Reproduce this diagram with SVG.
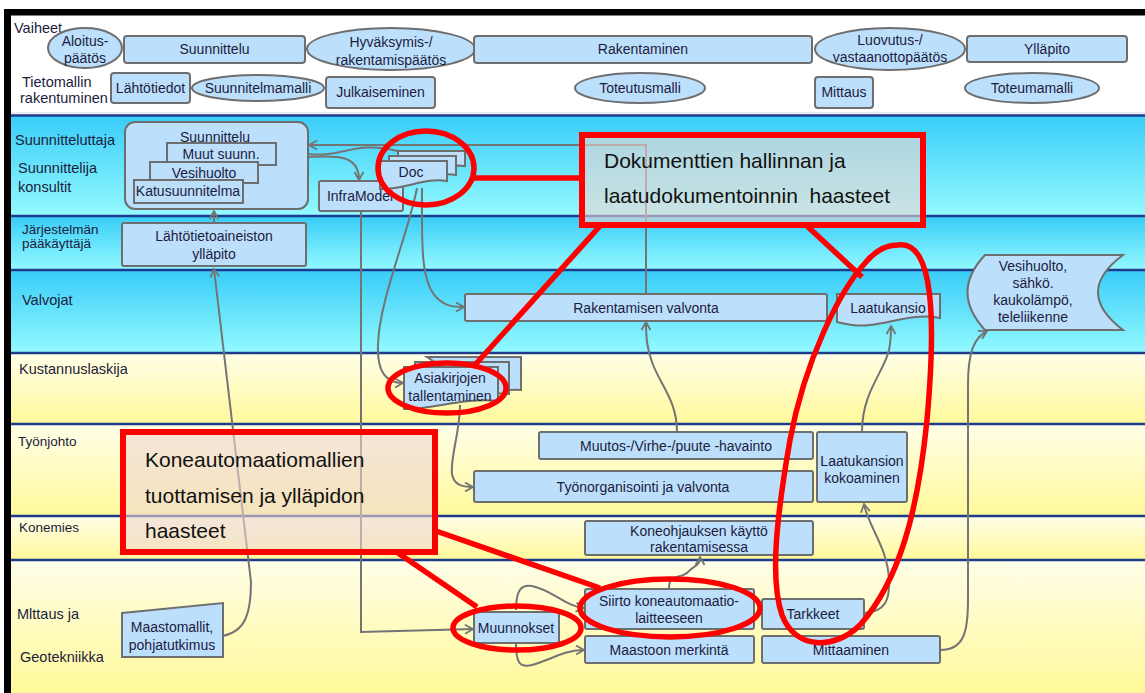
<svg xmlns="http://www.w3.org/2000/svg" width="1145" height="693" viewBox="0 0 1145 693">
  <defs>
    <linearGradient id="gBlue" x1="0" y1="0" x2="0" y2="1">
      <stop offset="0" stop-color="#38ccf8"/>
      <stop offset="1" stop-color="#94faff"/>
    </linearGradient>
    <linearGradient id="gYellow" x1="0" y1="0" x2="0" y2="1">
      <stop offset="0" stop-color="#fffee8"/>
      <stop offset="1" stop-color="#fff99a"/>
    </linearGradient>
    <marker id="arr" viewBox="-1 -1 11 11" refX="8" refY="4.5" markerWidth="11" markerHeight="11" markerUnits="userSpaceOnUse" orient="auto">
      <path d="M0,0 L8,4.5 L0,9" fill="none" stroke="#747474" stroke-width="1.8"/>
    </marker>
    <style>
      .n{fill:#bcdffc;stroke:#6e6e6e;stroke-width:2}
      .t{font-family:"Liberation Sans",Arial,sans-serif;font-size:14px;fill:#1c1c3c;text-anchor:middle}
      .l{font-family:"Liberation Sans",Arial,sans-serif;font-size:14.5px;fill:#1c1c3c}
      .ls{font-family:"Liberation Sans",Arial,sans-serif;font-size:13.5px;fill:#1c1c3c}
      .c{fill:none;stroke:#747474;stroke-width:2}
      .a{marker-end:url(#arr)}
      .lane{stroke:#1d3c8e;stroke-width:2.5}
      .r{fill:none;stroke:#ff0000;stroke-width:5.5}
      .co{fill:#eed6d2;fill-opacity:0.6;stroke:#ff0000;stroke-width:6}
      .ct{font-family:"Liberation Sans",Arial,sans-serif;font-size:21px;fill:#111}
    </style>
  </defs>

  <!-- page and frame -->
  <rect x="0" y="0" width="1145" height="693" fill="#ffffff"/>

  <!-- swimlane backgrounds -->
  <g id="lanes">
    <rect x="11" y="115" width="1134" height="101" fill="url(#gBlue)"/>
    <rect x="11" y="216" width="1134" height="54" fill="url(#gBlue)"/>
    <rect x="11" y="270" width="1134" height="83" fill="url(#gBlue)"/>
    <rect x="11" y="353" width="1134" height="71" fill="url(#gYellow)"/>
    <rect x="11" y="424" width="1134" height="92" fill="url(#gYellow)"/>
    <rect x="11" y="516" width="1134" height="44" fill="url(#gYellow)"/>
    <rect x="11" y="560" width="1134" height="133" fill="url(#gYellow)"/>
    <line x1="11" y1="113" x2="1145" y2="113" stroke="#e2e2f2" stroke-width="1.5"/>
    <line class="lane" x1="11" y1="115.5" x2="1145" y2="115.5"/>
    <line class="lane" x1="11" y1="216" x2="1145" y2="216"/>
    <line class="lane" x1="11" y1="270" x2="1145" y2="270"/>
    <line class="lane" x1="11" y1="353" x2="1145" y2="353"/>
    <line class="lane" x1="11" y1="424" x2="1145" y2="424"/>
    <line class="lane" x1="11" y1="516" x2="1145" y2="516"/>
    <line class="lane" x1="11" y1="560" x2="1145" y2="560"/>
  </g>

  <rect x="4" y="9" width="1141" height="6.5" fill="#000"/>
  <rect x="4" y="9" width="7" height="684" fill="#000"/>

  <!-- row and lane labels -->
  <g id="labels">
    <text class="l" x="14" y="33">Vaiheet</text>
    <text class="l" x="22" y="87">Tietomallin</text>
    <text class="l" x="20" y="103">rakentuminen</text>
    <text class="l" x="15" y="145">Suunnitteluttaja</text>
    <text class="l" x="18" y="173">Suunnittelija</text>
    <text class="l" x="18" y="192">konsultit</text>
    <text class="ls" x="22" y="234">Järjestelmän</text>
    <text class="ls" x="22" y="248">pääkäyttäjä</text>
    <text class="l" x="22" y="305">Valvojat</text>
    <text class="l" x="19" y="374">Kustannuslaskija</text>
    <text class="ls" x="18" y="446">Työnjohto</text>
    <text class="ls" x="19" y="532">Konemies</text>
    <text class="l" x="17" y="619">Mlttaus ja</text>
    <text class="l" x="20" y="662">Geotekniikka</text>
  </g>

  <!-- phase row -->
  <g id="aloitus"><ellipse class="n" cx="85" cy="48" rx="37" ry="20"/><text class="t" x="85" y="46">Aloitus-</text><text class="t" x="85" y="63">päätös</text></g>
  <g id="suunnittelu-vaihe"><rect class="n" x="124" y="36" width="181" height="27" rx="3"/><text class="t" x="214.5" y="54">Suunnittelu</text></g>
  <g id="hyvaksymis"><ellipse class="n" cx="391" cy="49" rx="84" ry="21"/><text class="t" x="391" y="47">Hyväksymis-/</text><text class="t" x="391" y="65">rakentamispäätös</text></g>
  <g id="rakentaminen"><rect class="n" x="474" y="36" width="338" height="27" rx="3"/><text class="t" x="643" y="54">Rakentaminen</text></g>
  <g id="luovutus"><ellipse class="n" cx="890" cy="49" rx="75" ry="21"/><text class="t" x="890" y="45">Luovutus-/</text><text class="t" x="890" y="62">vastaanottopäätös</text></g>
  <g id="yllapito"><rect class="n" x="967" y="36" width="160" height="26" rx="3"/><text class="t" x="1047" y="54">Ylläpito</text></g>

  <!-- model row -->
  <g id="lahtotiedot"><rect class="n" x="111" y="73" width="79" height="30" rx="3"/><text class="t" x="150.5" y="93">Lähtötiedot</text></g>
  <g id="suunnitelmamalli"><ellipse class="n" cx="258" cy="88" rx="66" ry="13"/><text class="t" x="258" y="93">Suunnitelmamalli</text></g>
  <g id="julkaiseminen"><rect class="n" x="326" y="77" width="109" height="31" rx="3"/><text class="t" x="380.5" y="97">Julkaiseminen</text></g>
  <g id="toteutusmalli"><ellipse class="n" cx="640" cy="88" rx="65" ry="15"/><text class="t" x="640" y="93">Toteutusmalli</text></g>
  <g id="mittaus"><rect class="n" x="815" y="77" width="58" height="31" rx="3"/><text class="t" x="844" y="97">Mittaus</text></g>
  <g id="toteumamalli"><ellipse class="n" cx="1032" cy="88" rx="67" ry="15"/><text class="t" x="1032" y="93">Toteumamalli</text></g>

  <!-- connectors -->
  <g id="connectors">
    <path class="c a" d="M214,223 L214,211"/>
    <path class="c a" d="M222,636 C246,632 251,612 251,582 L214,269"/>
    <path class="c a" d="M361,211 L361,632 L473,629"/>
    <path class="c a" d="M417,188 C408,235 379,300 378,345 C377,372 386,383 403,383"/>
    <path class="c a" d="M422,188 C422,240 420,280 436,297 C445,306 452,307 464,307"/>
    <path class="c a" d="M308,157 C340,155 359,156 359,180"/>
    <path class="c" d="M308,154 C345,158 352,140 398,151"/>
    <path class="c a" d="M646,294 L646,145 L309,145"/>
    <path class="c a" d="M677,432 C677,400 660,385 652,362 C647,348 646,338 646,322"/>
    <path class="c a" d="M862,432 C862,392 884,372 889,350 C891,340 891,334 891,326"/>
    <path class="c a" d="M864,613 C885,612 890,600 889,580 C888,548 868,526 864,504"/>
    <path class="c a" d="M940,650 C964,650 968,632 968,600 L968,385 C968,352 974,338 987,331"/>
    <path class="c a" d="M460,405 C460,432 450,458 452,474 C454,485 462,487 473,487"/>
    <path class="c a" d="M516,610 C516,592 520,584 532,586 C552,590 565,606 584,608"/>
    <path class="c a" d="M516,643 C516,662 519,668 532,665 C555,658 565,650 584,650"/>
    <path class="c a" d="M669,589 C669,572 680,580 688,572 C696,564 700,566 700,557"/>
  </g>

  <!-- designer lane -->
  <g id="suunnittelu-ryhma">
    <rect class="n" x="125" y="122" width="183" height="87" rx="10"/>
    <text class="t" x="215" y="142">Suunnittelu</text>
    <rect class="n" x="167" y="143" width="109" height="22"/><text class="t" x="221" y="159">Muut suunn.</text>
    <rect class="n" x="150" y="162" width="108" height="21"/><text class="t" x="204" y="178">Vesihuolto</text>
    <rect class="n" x="134" y="180" width="109" height="23"/><text class="t" x="188" y="196">Katusuunnitelma</text>
  </g>
  <g id="inframodel"><rect class="n" x="319" y="181" width="84" height="30" rx="2"/><text class="t" x="360" y="201">InfraModel</text></g>
  <g id="doc">
    <path class="n" d="M398,151 H465 V166 C445,163 425,175 398,174 Z"/>
    <path class="n" d="M389,156 H456 V175 C436,171 413,184 389,183 Z"/>
    <path class="n" d="M380,161 H447 V181 C427,177 403,190 380,189 Z"/>
    <text class="t" x="411" y="177">Doc</text>
  </g>

  <g id="lahtotietoaineisto"><rect class="n" x="122" y="223" width="184" height="43" rx="2"/><text class="t" x="214" y="241">Lähtötietoaineiston</text><text class="t" x="214" y="259">ylläpito</text></g>

  <!-- supervisors -->
  <g id="rakentamisen-valvonta"><rect class="n" x="465" y="294" width="362" height="27" rx="2"/><text class="t" x="646" y="313">Rakentamisen valvonta</text></g>
  <g id="laatukansio"><path class="n" d="M837,294 H940 V318 C915,313 895,322 870,325 C855,327 845,324 837,322 Z"/><text class="t" x="888" y="313">Laatukansio</text></g>
  <g id="verkostot">
    <path class="n" d="M985,255 L1123,255 Q1073,292 1123,330 L985,330 Q950,292 985,255 Z"/>
    <text class="t" x="1033" y="271">Vesihuolto,</text>
    <text class="t" x="1033" y="288">sähkö.</text>
    <text class="t" x="1033" y="305">kaukolämpö,</text>
    <text class="t" x="1033" y="322">teleliikenne</text>
  </g>

  <!-- cost estimator -->
  <g id="asiakirjojen-tallentaminen">
    <path class="n" d="M427,357 H521 V390 C505,389 495,392 480,392 Z"/>
    <path class="n" d="M415,362 H509 V394 C480,391 448,401 415,400 Z"/>
    <path class="n" d="M404,367 H498 V401 C464,397 431,410 404,409 Z"/>
    <text class="t" x="450" y="383">Asiakirjojen</text>
    <text class="t" x="450" y="401">tallentaminen</text>
  </g>

  <!-- site management -->
  <g id="havainto"><rect class="n" x="539" y="432" width="274" height="27" rx="2"/><text class="t" x="676" y="451">Muutos-/Virhe-/puute -havainto</text></g>
  <g id="tyonorganisointi"><rect class="n" x="474" y="471" width="339" height="31" rx="2"/><text class="t" x="643" y="492">Työnorganisointi ja valvonta</text></g>
  <g id="laatukansion-kokoaminen"><rect class="n" x="817" y="432" width="90" height="70" rx="2"/><text class="t" x="862" y="466">Laatukansion</text><text class="t" x="862" y="483">kokoaminen</text></g>

  <!-- machine operator -->
  <g id="koneohjaus"><rect class="n" x="585" y="521" width="228" height="34" rx="2"/><text class="t" x="699" y="536">Koneohjauksen käyttö</text><text class="t" x="699" y="552">rakentamisessa</text></g>

  <!-- survey and geotechnics -->
  <g id="maastomallit"><path class="n" d="M122,613 L223,603 L223,657 L122,657 Z"/><text class="t" x="172" y="632">Maastomallit,</text><text class="t" x="172" y="650">pohjatutkimus</text></g>
  <g id="muunnokset"><rect class="n" x="474" y="612" width="85" height="31" rx="2"/><text class="t" x="516" y="633">Muunnokset</text></g>
  <g id="siirto"><rect class="n" x="585" y="589" width="169" height="40" rx="2"/><text class="t" x="669" y="606">Siirto koneautomaatio-</text><text class="t" x="669" y="623">laitteeseen</text></g>
  <g id="maastoon-merkinta"><rect class="n" x="585" y="636" width="169" height="27" rx="2"/><text class="t" x="669" y="655">Maastoon merkintä</text></g>
  <g id="tarkkeet"><rect class="n" x="762" y="599" width="102" height="30" rx="2"/><text class="t" x="813" y="619">Tarkkeet</text></g>
  <g id="mittaaminen"><rect class="n" x="762" y="636" width="178" height="27" rx="2"/><text class="t" x="851" y="655">Mittaaminen</text></g>

  <!-- issue callouts -->
  <g id="dokumentit-haasteet">
    <rect class="co" x="582" y="135" width="341" height="90"/>
    <text class="ct" x="604" y="168">Dokumenttien hallinnan ja</text>
    <text class="ct" x="604" y="203" xml:space="preserve">laatudokumentoinnin  haasteet</text>
  </g>
  <g id="koneautomaatio-haasteet">
    <rect class="co" x="123" y="432" width="312" height="120"/>
    <text class="ct" x="145" y="467">Koneautomaatiomallien</text>
    <text class="ct" x="145" y="503">tuottamisen ja ylläpidon</text>
    <text class="ct" x="145" y="538">haasteet</text>
  </g>

  <!-- highlight marks -->
  <g id="korostukset">
    <ellipse class="r" cx="426" cy="168" rx="48" ry="37"/>
    <ellipse class="r" cx="447" cy="388" rx="59" ry="25"/>
    <ellipse class="r" cx="517" cy="628" rx="64" ry="22"/>
    <ellipse class="r" cx="670" cy="608" rx="90" ry="29"/>
    <path class="r" d="M898,245 C934,240 936,320 927,420 C918,510 900,580 860,625 C835,650 795,650 782,615 C770,580 776,520 790,440 C805,360 840,290 866,262 C876,250 887,245 898,245 Z"/>
    <line class="r" x1="474" y1="178" x2="582" y2="178"/>
    <line class="r" x1="600" y1="226" x2="474" y2="366"/>
    <line class="r" x1="807" y1="226" x2="862" y2="277"/>
    <line class="r" x1="436" y1="531" x2="600" y2="588"/>
    <line class="r" x1="398" y1="553" x2="477" y2="607"/>
  </g>
</svg>
